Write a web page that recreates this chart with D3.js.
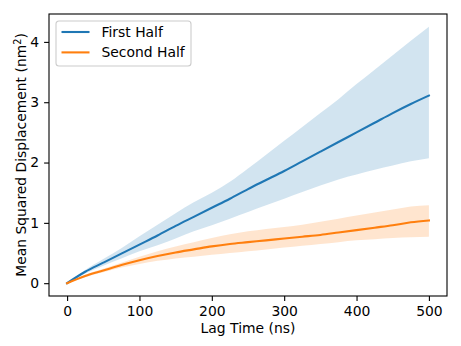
<!DOCTYPE html>
<html>
<head>
<meta charset="utf-8">
<script src="https://cdn.jsdelivr.net/npm/d3@7"></script>
<style>
  body { margin: 0; background: #fff; }
  svg { font-family: "DejaVu Sans", sans-serif; }
</style>
</head>
<body>
<svg></svg>
<script>
// lag times (ns) and MSD values (nm^2)
const lagTimes = [0, 25, 50, 75, 100, 125, 150, 175, 200, 225, 250, 275, 300, 325, 350, 375, 400, 425, 450, 475, 500];

const firstMean  = [0, 0.19, 0.34, 0.49, 0.64, 0.79, 0.95, 1.10, 1.25, 1.40, 1.56, 1.71, 1.86, 2.02, 2.18, 2.34, 2.50, 2.66, 2.82, 2.97, 3.11];
const firstUpper = [0, 0.22, 0.40, 0.58, 0.78, 0.97, 1.16, 1.34, 1.50, 1.68, 1.90, 2.13, 2.36, 2.59, 2.82, 3.05, 3.30, 3.54, 3.78, 4.02, 4.25];
const firstLower = [0, 0.16, 0.29, 0.41, 0.53, 0.63, 0.74, 0.86, 0.96, 1.07, 1.18, 1.29, 1.40, 1.51, 1.62, 1.72, 1.80, 1.88, 1.95, 2.02, 2.07];

const secondMean  = [0, 0.12, 0.21, 0.30, 0.38, 0.45, 0.51, 0.56, 0.61, 0.65, 0.68, 0.71, 0.74, 0.77, 0.80, 0.84, 0.88, 0.92, 0.96, 1.01, 1.04];
const secondUpper = [0, 0.14, 0.24, 0.34, 0.44, 0.53, 0.61, 0.68, 0.75, 0.81, 0.86, 0.90, 0.93, 0.97, 1.02, 1.07, 1.12, 1.17, 1.22, 1.27, 1.29];
const secondLower = [0, 0.10, 0.18, 0.26, 0.32, 0.37, 0.41, 0.44, 0.47, 0.50, 0.53, 0.56, 0.59, 0.62, 0.65, 0.68, 0.71, 0.73, 0.75, 0.76, 0.77];

const xTicks = [0, 100, 200, 300, 400, 500];
const yTicks = [0, 1, 2, 3, 4];
const seriesNames = ["First Half", "Second Half"];
const colors = ["#1f77b4", "#ff7f0e"];

const width = 461, height = 346;
const margin = { top: 14, right: 14, bottom: 50, left: 49 };
const graphWidth = width - margin.left - margin.right;
const graphHeight = height - margin.top - margin.bottom;

const svg = d3.select("svg").attr("width", width).attr("height", height);

const graph = svg
  .append("g")
  .attr("transform", `translate(${margin.left}, ${margin.top})`);

const x = d3.scaleLinear().domain([-25, 525]).range([0, graphWidth]);
const y = d3.scaleLinear().domain([-0.2125, 4.4625]).range([graphHeight, 0]);

const series = [
  { mean: firstMean, upper: firstUpper, lower: firstLower },
  { mean: secondMean, upper: secondUpper, lower: secondLower }
];

const area = d3
  .area()
  .x((d) => x(d.t))
  .y0((d) => y(d.lo))
  .y1((d) => y(d.hi))
  .curve(d3.curveMonotoneX);

const line = d3
  .line()
  .x((d) => x(d.t))
  .y((d) => y(d.v))
  .curve(d3.curveMonotoneX);

series.forEach((s, i) => {
  const band = lagTimes.map((t, j) => ({ t: t, lo: s.lower[j], hi: s.upper[j] }));
  graph
    .append("path")
    .datum(band)
    .attr("d", area)
    .attr("fill", colors[i])
    .attr("fill-opacity", 0.2);
});

series.forEach((s, i) => {
  const pts = lagTimes.map((t, j) => ({ t: t, v: s.mean[j] }));
  graph
    .append("path")
    .datum(pts)
    .attr("d", line)
    .attr("fill", "none")
    .attr("stroke", colors[i])
    .attr("stroke-width", 2.1)
    .attr("stroke-linejoin", "round")
    .attr("stroke-linecap", "square");
});

// frame
graph
  .append("rect")
  .attr("width", graphWidth)
  .attr("height", graphHeight)
  .attr("fill", "none")
  .attr("stroke", "black")
  .attr("stroke-width", 1.1);

const xAxis = d3.axisBottom(x).tickValues(xTicks).tickFormat(d3.format("d")).tickSize(4.9).tickPadding(4.9);
const yAxis = d3.axisLeft(y).tickValues(yTicks).tickFormat(d3.format("d")).tickSize(4.9).tickPadding(4.9);

const xAxisGroup = graph
  .append("g")
  .attr("transform", `translate(0, ${graphHeight})`)
  .call(xAxis);
const yAxisGroup = graph.append("g").call(yAxis);

[xAxisGroup, yAxisGroup].forEach((g) => {
  g.select(".domain").remove();
  g.selectAll(".tick line").attr("stroke", "black").attr("stroke-width", 1.1);
  g.selectAll(".tick text")
    .attr("fill", "black")
    .style("font-size", "13.9px")
    .style("font-family", "DejaVu Sans");
});

// axis labels
svg
  .append("text")
  .attr("x", margin.left + graphWidth / 2)
  .attr("y", 333)
  .attr("text-anchor", "middle")
  .style("font-size", "13.9px")
  .text("Lag Time (ns)");

const yLabel = svg
  .append("text")
  .attr("transform", `translate(26, ${margin.top + graphHeight / 2}) rotate(-90)`)
  .attr("text-anchor", "middle")
  .style("font-size", "13.9px");
yLabel.append("tspan").text("Mean Squared Displacement (nm");
yLabel.append("tspan").attr("dy", -5).style("font-size", "9.7px").text("2");
yLabel.append("tspan").attr("dy", 5).text(")");

// legend
const legend = svg.append("g").attr("transform", "translate(56, 21)");
legend
  .append("rect")
  .attr("width", 135)
  .attr("height", 45)
  .attr("rx", 3)
  .attr("fill", "white")
  .attr("fill-opacity", 0.8)
  .attr("stroke", "#cccccc")
  .attr("stroke-width", 1.1);

seriesNames.forEach((name, i) => {
  const row = legend.append("g").attr("transform", `translate(0, ${11 + i * 20.4})`);
  row
    .append("line")
    .attr("x1", 5.5)
    .attr("x2", 33.5)
    .attr("stroke", colors[i])
    .attr("stroke-width", 2.1);
  row
    .append("text")
    .attr("x", 45.5)
    .attr("y", 5)
    .style("font-size", "13.9px")
    .text(name);
});
</script>
</body>
</html>
